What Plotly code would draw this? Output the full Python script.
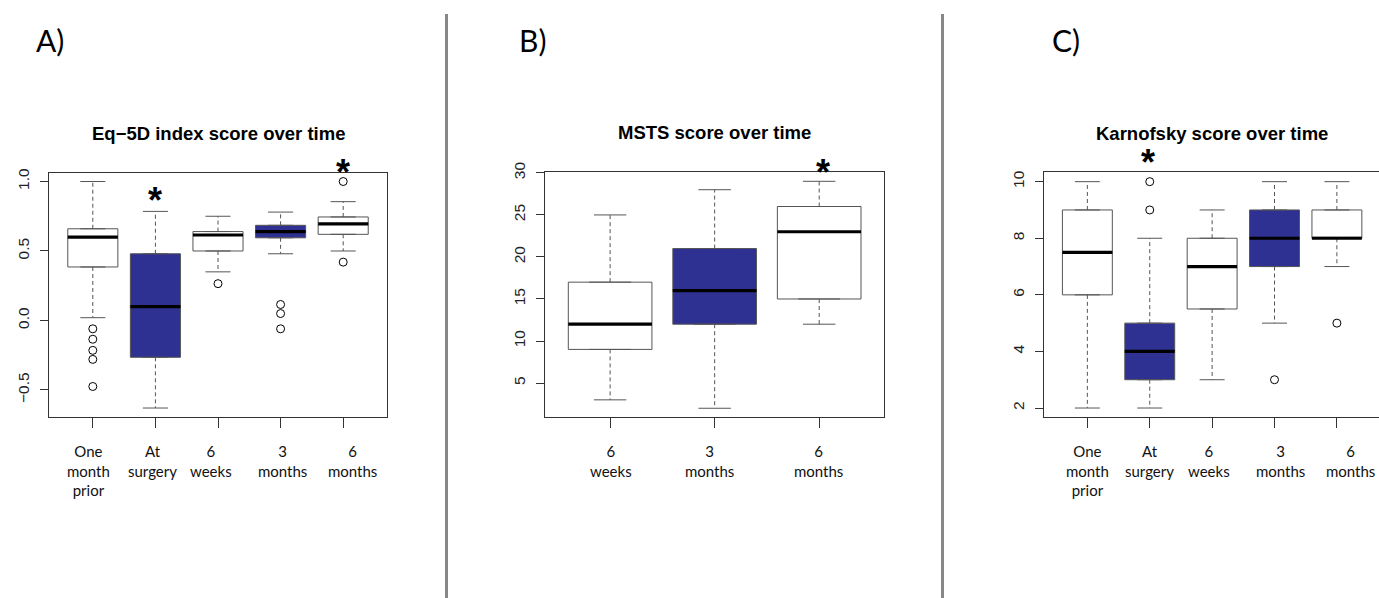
import plotly.graph_objects as go

W, H = 1379, 598

# ---------------- data ----------------
eq5d_labels = ["One<br>month<br>prior", "At<br>surgery", "6<br>weeks", "3<br>months", "6<br>months"]
eq5d_lower = [0.02, -0.63, 0.35, 0.48, 0.50]
eq5d_q1 = [0.385, -0.265, 0.50, 0.595, 0.62]
eq5d_median = [0.60, 0.10, 0.615, 0.64, 0.695]
eq5d_q3 = [0.66, 0.48, 0.64, 0.685, 0.745]
eq5d_upper = [1.00, 0.785, 0.75, 0.78, 0.855]
eq5d_outliers = [[-0.06, -0.135, -0.215, -0.28, -0.475], [], [0.265], [0.115, 0.05, -0.06], [1.0, 0.42]]
eq5d_ticks = [-0.5, 0.0, 0.5, 1.0]
eq5d_ticktext = ["\u22120.5", "0.0", "0.5", "1.0"]
eq5d_stars = [1, 4]
eq5d_star_y = [0.907, 1.109]

msts_labels = ["6<br>weeks", "3<br>months", "6<br>months"]
msts_lower = [3, 2, 12]
msts_q1 = [9, 12, 15]
msts_median = [12, 16, 23]
msts_q3 = [17, 21, 26]
msts_upper = [25, 28, 29]
msts_outliers = [[], [], []]
msts_ticks = [5, 10, 15, 20, 25, 30]
msts_ticktext = ["5", "10", "15", "20", "25", "30"]
msts_stars = [2.04]
msts_star_y = [30.78]

karn_labels = ["One<br>month<br>prior", "At<br>surgery", "6<br>weeks", "3<br>months", "6<br>months"]
karn_lower = [2, 2, 3, 5, 7]
karn_q1 = [6, 3, 5.5, 7, 8]
karn_median = [7.5, 4, 7, 8, 8]
karn_q3 = [9, 5, 8, 9, 9]
karn_upper = [10, 8, 9, 10, 10]
karn_outliers = [[], [10, 9], [], [3], [5]]
karn_ticks = [2, 4, 6, 8, 10]
karn_ticktext = ["2", "4", "6", "8", "10"]
karn_stars = [0.97]
karn_star_y = [10.88]

titles = ["Eq\u22125D index score over time", "MSTS score over time", "Karnofsky score over time"]
panel_letters = ["A)", "B)", "C)"]

# ---------------- style ----------------
BLUE = "#2E3192"
EDGE = "#555555"
fills_5 = ["white", BLUE, "white", BLUE, "white"]
fills_3 = ["white", BLUE, "white"]


def px_x(x):
    return x / W


def px_y(y):
    # small vertical compensation of the page offset (7px at the top, ~4px lower down)
    dy = 7 - 3 * min(max((y - 130) / 320, 0), 1)
    return 1 - (y - dy) / H


panels = [
    dict(labels=eq5d_labels, lo=eq5d_lower, q1=eq5d_q1, med=eq5d_median, q3=eq5d_q3, up=eq5d_upper,
         out=eq5d_outliers, ticks=eq5d_ticks, ticktext=eq5d_ticktext, stars=eq5d_stars, star_y=eq5d_star_y,
         fills=fills_5, cap=0.2, xdom=[px_x(49), px_x(387)], ydom=[px_y(418), px_y(172)],
         xr=[-0.7, 4.7], yr=[-0.693, 1.064], mirror_y=True,
         label_px=[88, 152, 211, 282, 352], title_px=(218, 133), letter_px=(50, 38)),
    dict(labels=msts_labels, lo=msts_lower, q1=msts_q1, med=msts_median, q3=msts_q3, up=msts_upper,
         out=msts_outliers, ticks=msts_ticks, ticktext=msts_ticktext, stars=msts_stars, star_y=msts_star_y,
         fills=fills_3, cap=0.155, xdom=[px_x(545.3), px_x(884)], ydom=[px_y(418.3), px_y(171)],
         xr=[-0.62, 2.62], yr=[0.95, 30.15], mirror_y=True,
         label_px=[611, 710, 818], title_px=(715, 132), letter_px=(532, 38)),
    dict(labels=karn_labels, lo=karn_lower, q1=karn_q1, med=karn_median, q3=karn_q3, up=karn_upper,
         out=karn_outliers, ticks=karn_ticks, ticktext=karn_ticktext, stars=karn_stars, star_y=karn_star_y,
         fills=fills_5, cap=0.2, xdom=[px_x(1043.7), 1.0], ydom=[px_y(418.3), px_y(171.7)],
         xr=[-0.7, 4.675], yr=[1.68, 10.33], mirror_y=False,
         label_px=[1087, 1149, 1209, 1280, 1350], title_px=(1212, 133), letter_px=(1066, 38)),
]

fig = go.Figure()
annotations = []
shapes = []

for k, p in enumerate(panels):
    xa = "x" if k == 0 else f"x{k+1}"
    ya = "y" if k == 0 else f"y{k+1}"
    n = len(p["med"])
    pos = list(range(n))

    # whiskers (dashed)
    wx, wy = [], []
    for i in pos:
        wx += [i, i, None, i, i, None]
        wy += [p["q3"][i], p["up"][i], None, p["q1"][i], p["lo"][i], None]
    fig.add_trace(go.Scatter(x=wx, y=wy, mode="lines", xaxis=xa, yaxis=ya,
                             line=dict(color=EDGE, width=1, dash="4px,3px"), showlegend=False, hoverinfo="skip"))
    # caps
    cx, cy = [], []
    c = p["cap"]
    for i in pos:
        cx += [i - c, i + c, None, i - c, i + c, None]
        cy += [p["up"][i], p["up"][i], None, p["lo"][i], p["lo"][i], None]
    fig.add_trace(go.Scatter(x=cx, y=cy, mode="lines", xaxis=xa, yaxis=ya,
                             line=dict(color=EDGE, width=1), showlegend=False, hoverinfo="skip"))
    # box bodies
    for i in pos:
        fig.add_trace(go.Box(x=[i], q1=[p["q1"][i]], median=[p["med"][i]], q3=[p["q3"][i]],
                             lowerfence=[p["q1"][i]], upperfence=[p["q3"][i]],
                             width=0.8, fillcolor=p["fills"][i], line=dict(color=EDGE, width=1),
                             xaxis=xa, yaxis=ya, showlegend=False, boxpoints=False, hoverinfo="skip"))
    # medians
    mx, my = [], []
    for i in pos:
        mx += [i - 0.4, i + 0.4, None]
        my += [p["med"][i], p["med"][i], None]
    fig.add_trace(go.Scatter(x=mx, y=my, mode="lines", xaxis=xa, yaxis=ya,
                             line=dict(color="black", width=3.2), showlegend=False, hoverinfo="skip"))
    # outliers
    ox, oy = [], []
    for i in pos:
        for v in p["out"][i]:
            ox.append(i)
            oy.append(v)
    if ox:
        fig.add_trace(go.Scatter(x=ox, y=oy, mode="markers", xaxis=xa, yaxis=ya,
                                 marker=dict(symbol="circle-open", size=8, color="black", line=dict(width=1)),
                                 showlegend=False, hoverinfo="skip", cliponaxis=False))

    axis_x = dict(domain=p["xdom"], range=p["xr"], anchor=ya, showline=True, mirror=True,
                  linecolor="#333333", linewidth=1, ticks="outside", ticklen=10, tickcolor="#333333",
                  tickvals=pos, showticklabels=False, showgrid=False, zeroline=False, fixedrange=True)
    axis_y = dict(domain=p["ydom"], range=p["yr"], anchor=xa, showline=True, mirror=p["mirror_y"],
                  linecolor="#333333", linewidth=1, ticks="outside", ticklen=8, tickcolor="#333333",
                  tickvals=p["ticks"], ticktext=p["ticktext"], tickangle=-90, ticklabelstandoff=5,
                  tickfont=dict(family="Liberation Sans, Arial", size=15.5, color="#222222"),
                  showgrid=False, zeroline=False, fixedrange=True)
    if k == 0:
        fig.update_layout(xaxis=axis_x, yaxis=axis_y)
    else:
        fig.update_layout(**{f"xaxis{k+1}": axis_x, f"yaxis{k+1}": axis_y})

    # category labels
    for i, lab in enumerate(p["labels"]):
        annotations.append(dict(x=px_x(p["label_px"][i]), y=px_y(441), xref="paper", yref="paper",
                                text=lab, showarrow=False, xanchor="center", yanchor="top",
                                font=dict(family="Lato", size=15, color="#111111")))
    # significance stars (value -> paper position through the panel's y scale)
    y0, y1 = p["yr"]
    d0, d1 = p["ydom"]
    x0, x1 = p["xr"]
    e0, e1 = p["xdom"]
    for sx, sy in zip(p["stars"], p["star_y"]):
        annotations.append(dict(x=e0 + (sx - x0) / (x1 - x0) * (e1 - e0),
                                y=d0 + (sy - y0) / (y1 - y0) * (d1 - d0),
                                xref="paper", yref="paper", text="<b>*</b>", showarrow=False,
                                xanchor="center", yanchor="middle", yshift=-6,
                                font=dict(family="Liberation Sans, Arial", size=36, color="black")))
    # title
    tx, ty = p["title_px"]
    annotations.append(dict(x=px_x(tx), y=px_y(ty), xref="paper", yref="paper",
                            text=f"<b>{titles[k]}</b>", showarrow=False, xanchor="center", yanchor="middle",
                            font=dict(family="Liberation Sans, Arial", size=18.5, color="black")))
    # panel letter
    lx, ly = p["letter_px"]
    annotations.append(dict(x=px_x(lx), y=px_y(ly), xref="paper", yref="paper",
                            text=panel_letters[k], showarrow=False, xanchor="center", yanchor="middle",
                            font=dict(family="Lato", size=30, color="black")))

# separators
for sx in [446.5, 942.5]:
    shapes.append(dict(type="line", xref="paper", yref="paper", x0=px_x(sx), x1=px_x(sx),
                       y0=px_y(H + 20), y1=px_y(11), line=dict(color="#888888", width=3)))

fig.update_layout(width=W, height=H, margin=dict(l=0, r=0, t=0, b=0),
                  paper_bgcolor="white", plot_bgcolor="white", showlegend=False,
                  annotations=annotations, shapes=shapes, boxmode="overlay")

fig.write_html(
    "out.html",
    config={"displayModeBar": False},
    post_script=(
        "document.body.style.margin='0';document.body.style.overflow='hidden';"
        "var d=document.getElementById('{plot_id}');"
        "d.style.position='absolute';d.style.top='0px';d.style.left='0px';"
    ),
)
